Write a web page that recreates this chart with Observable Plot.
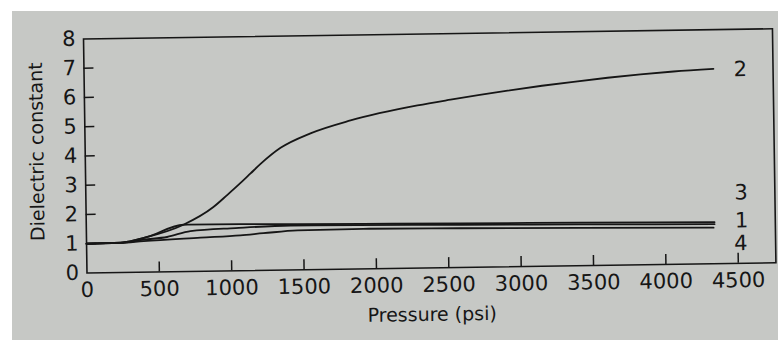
<!DOCTYPE html>
<html>
<head>
<meta charset="utf-8">
<script src="https://cdn.jsdelivr.net/npm/d3@7"></script>
<script src="https://cdn.jsdelivr.net/npm/@observablehq/plot@0.6"></script>
<style>
  html { margin: 0; padding: 0; background: #ffffff; }
  body {
    margin: 0; padding: 0; width: 778px; height: 340px;
    /* grey page with a thin white border strip along the top and left */
    background:
      linear-gradient(#ffffff, #ffffff) 0 0 / 100% 11px no-repeat,
      linear-gradient(#ffffff, #ffffff) 0 0 / 12px 100% no-repeat,
      #c6c8c5;
  }
  #chart svg { display: block; }
</style>
</head>
<body>
<div id="chart"></div>
<script>
// Axis ticks
const pressureTicks = [0, 500, 1000, 1500, 2000, 2500, 3000, 3500, 4000, 4500];
const dielectricTicks = [0, 1, 2, 3, 4, 5, 6, 7, 8];

// Series names (as printed at the end of each curve)
const seriesNames = ["1", "2", "3", "4"];

// Curve 1
const pressure1 = [0, 234, 396, 557, 719, 1030, 1411, 2585, 3400, 4340];
const dielectric1 = [1.00, 1.01, 1.11, 1.19, 1.38, 1.46, 1.52, 1.46, 1.41, 1.35];

// Curve 2
const pressure2 = [0, 234, 421, 671, 880, 978, 1070, 1140, 1210, 1350, 1558, 1836, 2300, 2529, 2924, 3162, 3380, 3616, 3844, 4072, 4348];
const dielectric2 = [1.00, 1.02, 1.20, 1.60, 2.19, 2.60, 3.00, 3.32, 3.64, 4.18, 4.66, 5.08, 5.56, 5.74, 6.02, 6.17, 6.29, 6.41, 6.51, 6.59, 6.66];

// Curve 3
const pressure3 = [0, 234, 421, 671, 700, 1065, 1459, 1915, 2585, 3400, 4340];
const dielectric3 = [1.00, 1.02, 1.20, 1.60, 1.60, 1.59, 1.56, 1.54, 1.51, 1.47, 1.42];

// Curve 4
const pressure4 = [0, 234, 394, 788, 1064, 1223, 1458, 1914, 2584, 3400, 4333];
const dielectric4 = [1.00, 1.01, 1.06, 1.15, 1.21, 1.27, 1.35, 1.37, 1.34, 1.29, 1.23];

const pressures = [pressure1, pressure2, pressure3, pressure4];
const dielectrics = [dielectric1, dielectric2, dielectric3, dielectric4];

const rows = seriesNames.flatMap((name, i) =>
  pressures[i].map((p, j) => ({series: name, pressure: p, value: dielectrics[i][j]}))
);
const lastPoints = seriesNames.map((name, i) => ({
  series: name,
  pressure: pressures[i][pressures[i].length - 1],
  value: dielectrics[i][dielectrics[i].length - 1]
}));

const ink = "#161616";
const width = 778, height = 340;
const margin = {top: 34, right: 4, bottom: 72, left: 85};
const innerWidth = width - margin.left - margin.right;
const innerHeight = height - margin.top - margin.bottom;

// vertical nudges that keep the end labels readable
const labelShift = {"1": -3, "2": 1, "3": -29, "4": 16};

const chart = Plot.plot({
  width, height,
  marginTop: margin.top, marginRight: margin.right,
  marginBottom: margin.bottom, marginLeft: margin.left,
  style: {background: "transparent", color: ink, fontFamily: "DejaVu Sans, sans-serif"},
  x: {domain: [0, 4760]},
  y: {domain: [0, 8]},
  marks: [
    Plot.frame({stroke: ink, strokeWidth: 1.6}),
    // inward tick marks
    Plot.tickY(dielectricTicks.slice(1, -1), {y: d => d, insetRight: innerWidth - 10, stroke: ink, strokeWidth: 1.5}),
    Plot.tickX(pressureTicks.slice(1), {x: d => d, insetTop: innerHeight - 10, stroke: ink, strokeWidth: 1.5}),
    Plot.axisY(dielectricTicks, {anchor: "left", tickSize: 0, tickPadding: 8, fontSize: 21, label: null}),
    Plot.axisX(pressureTicks, {anchor: "bottom", tickSize: 0, tickPadding: 9, fontSize: 21, tickFormat: d3.format("d"), label: null}),
    Plot.line(rows, {x: "pressure", y: "value", z: "series", curve: "monotone-x", stroke: ink, strokeWidth: 1.8}),
    ...lastPoints.map(d =>
      Plot.text([d], {x: "pressure", y: "value", text: "series", dx: 27, dy: labelShift[d.series], fontSize: 21, fill: ink})
    ),
    Plot.text(["Dielectric constant"], {text: d => d, frameAnchor: "left", textAnchor: "middle", rotate: -90, dx: -48, dy: -5, fontSize: 19, fill: ink}),
    Plot.text(["Pressure (psi)"], {text: d => d, frameAnchor: "bottom", dy: 53, fontSize: 19, fill: ink})
  ]
});

// The printed figure sits slightly askew on the page: tilt the drawing as a whole.
const tilt = document.createElementNS("http://www.w3.org/2000/svg", "g");
tilt.setAttribute("transform", `rotate(-0.85 ${width / 2} ${height / 2})`);
for (const node of Array.from(chart.childNodes)) {
  if (node.nodeName.toLowerCase() !== "style") tilt.appendChild(node);
}
chart.appendChild(tilt);

document.getElementById("chart").appendChild(chart);
</script>
</body>
</html>
